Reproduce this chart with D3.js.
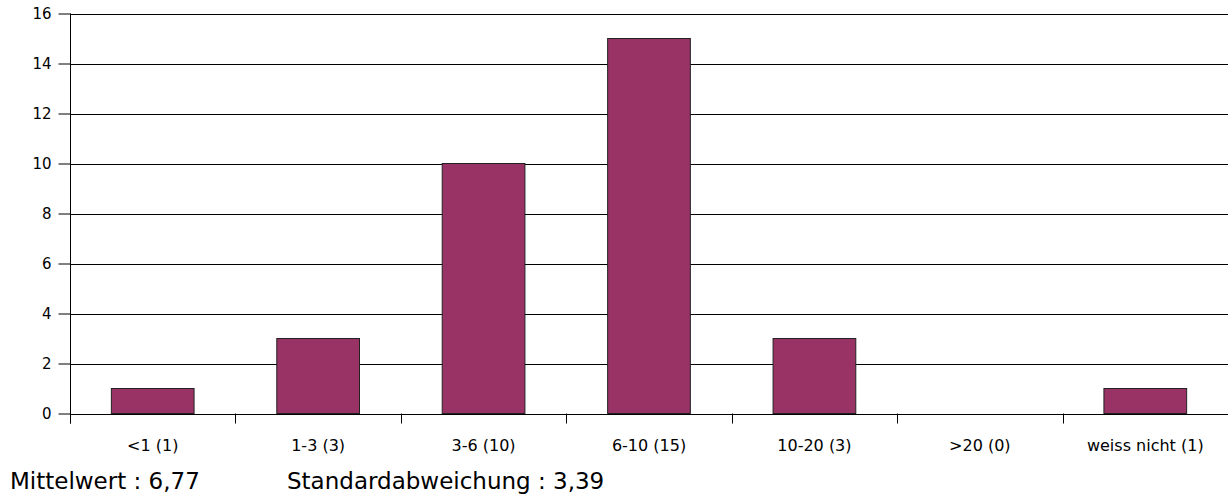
<!DOCTYPE html>
<html><head><meta charset="utf-8">
<script src="https://cdn.jsdelivr.net/npm/d3@7"></script>
<style>html,body{margin:0;padding:0;background:#fff;}svg{display:block;}</style>
</head><body>
<svg id="chart" width="1228" height="495"></svg>
<script>
const categories = ["<1 (1)", "1-3 (3)", "3-6 (10)", "6-10 (15)", "10-20 (3)", ">20 (0)", "weiss nicht (1)"];
const values = [1, 3, 10, 15, 3, 0, 1];
const yTicks = [0, 2, 4, 6, 8, 10, 12, 14, 16];
const footerTexts = ["Mittelwert : 6,77", "Standardabweichung : 3,39"];

(function () {
const svg = d3.select("#chart");
const font = "DejaVu Sans, Tahoma, sans-serif";
const pLeft = 70, pRight = 1228, pTop = 13.5, pBottom = 413.5;

const x = d3.scaleBand().domain(categories).range([pLeft, pRight]).padding(0);
const y = d3.scaleLinear().domain([0, 16]).range([pBottom, pTop]);

// gridlines
svg.append("g").selectAll("line").data(yTicks).join("line")
  .attr("x1", pLeft).attr("x2", pRight)
  .attr("y1", d => Math.round(y(d)) + 0.5).attr("y2", d => Math.round(y(d)) + 0.5)
  .attr("stroke", "#000").attr("stroke-width", 1).attr("shape-rendering", "crispEdges");

// bars
svg.append("g").selectAll("rect").data(values).join("rect")
  .attr("x", (d, i) => x(categories[i]) + x.step() * 0.25)
  .attr("width", x.step() * 0.5)
  .attr("y", d => y(d))
  .attr("height", d => y(0) - y(d))
  .attr("fill", "#993366")
  .attr("stroke", d => d > 0 ? "#222" : "none")
  .attr("stroke-width", 1);

// y axis
const yAxis = d3.axisLeft(y).tickValues(yTicks).tickSize(12).tickSizeOuter(0).tickPadding(7);
const gy = svg.append("g").attr("transform", `translate(${pLeft + 0.5},0)`).call(yAxis);
gy.select(".domain").remove();
gy.selectAll(".tick line").attr("stroke", "#000");
gy.selectAll(".tick text").attr("font-family", font).attr("font-size", 15).attr("fill", "#000");
svg.append("line").attr("x1", pLeft + 0.5).attr("x2", pLeft + 0.5).attr("y1", pTop).attr("y2", pBottom + 10)
  .attr("stroke", "#000");

// x axis ticks at band boundaries
const bounds = categories.map(c => x(c));
svg.append("g").selectAll("line").data(bounds).join("line")
  .attr("x1", d => Math.round(d) + 0.5).attr("x2", d => Math.round(d) + 0.5)
  .attr("y1", pBottom).attr("y2", pBottom + 10)
  .attr("stroke", "#000");

// x labels
svg.append("g").selectAll("text").data(categories).join("text")
  .attr("x", d => x(d) + x.bandwidth() / 2)
  .attr("y", 451)
  .attr("text-anchor", "middle")
  .attr("font-family", font).attr("font-size", 16).attr("fill", "#000")
  .text(d => d);

// footer
svg.append("text").attr("x", 10).attr("y", 489).attr("font-family", font).attr("font-size", 23)
  .attr("fill", "#000").text(footerTexts[0]);
svg.append("text").attr("x", 287).attr("y", 489).attr("font-family", font).attr("font-size", 23)
  .attr("fill", "#000").text(footerTexts[1]);
})();
</script>
</body></html>
